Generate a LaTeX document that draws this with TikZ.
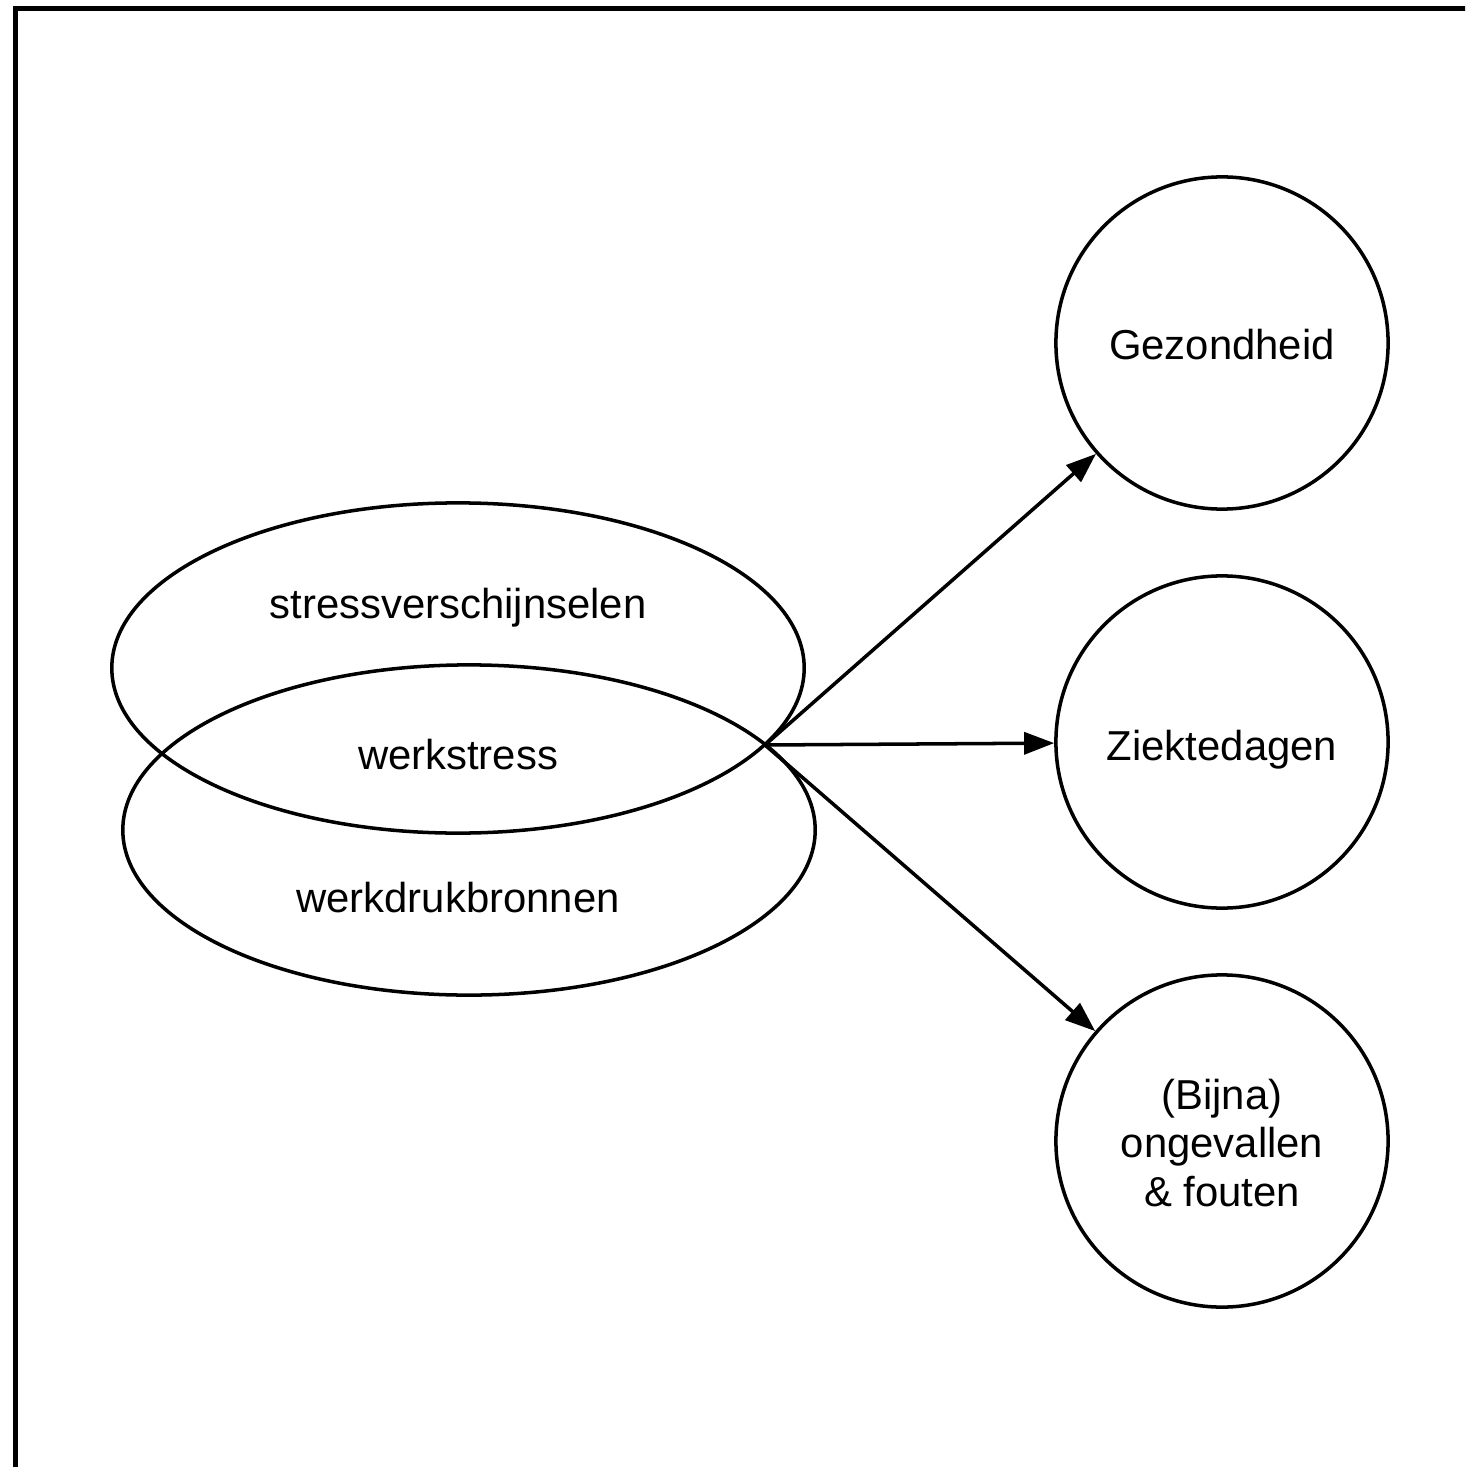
\documentclass[tikz,border=0pt]{standalone}
\usepackage{fontspec}
\setmainfont{Liberation Sans}
\usetikzlibrary{shapes.geometric,arrows.meta}
\begin{document}
\begin{tikzpicture}[x=0.01cm,y=-0.01cm,
  lbl/.style={anchor=base,inner sep=0pt,font=\fontsize{11.9}{13.7}\selectfont},
  oval/.style={draw,ellipse,line width=1pt,minimum width=6.92cm,minimum height=3.30cm,inner sep=0pt},
  outcome/.style={draw,circle,line width=1pt,minimum size=3.32cm,inner sep=0pt},
  link/.style={line width=1pt,-{Triangle[length=0.30cm,width=0.22cm]}}]
\useasboundingbox (0,0) rectangle (1465,1467);
\clip (0,0) rectangle (1465,1467);
\draw[line width=1.5pt] (15.5,8.5) rectangle (1520,1520);
\node[oval] (stress) at (458,668) {};
\node[oval] (druk) at (469,830) {};
\node[lbl] (tstress) at (458,618) {stressverschijnselen};
\node[lbl] (twerk) at (458,769) {werkstress};
\node[lbl] (tdruk) at (458,912) {werkdrukbronnen};
\node[outcome] (gez) at (1222,343) {};
\node[outcome] (ziek) at (1222,742) {};
\node[outcome] (ong) at (1222,1141) {};
\node[lbl] (tgez) at (1222,360) {Gezondheid};
\node[lbl] (tziek) at (1222,760) {Ziektedagen};
\node[lbl,align=center] (tong) at (1222,1206) {(Bijna)\\ongevallen\\\& fouten};
\coordinate (src) at (765,745);
\draw[link] (src) -- (gez);
\draw[link] (src) -- (ziek);
\draw[link] (src) -- (ong);
\end{tikzpicture}
\end{document}
